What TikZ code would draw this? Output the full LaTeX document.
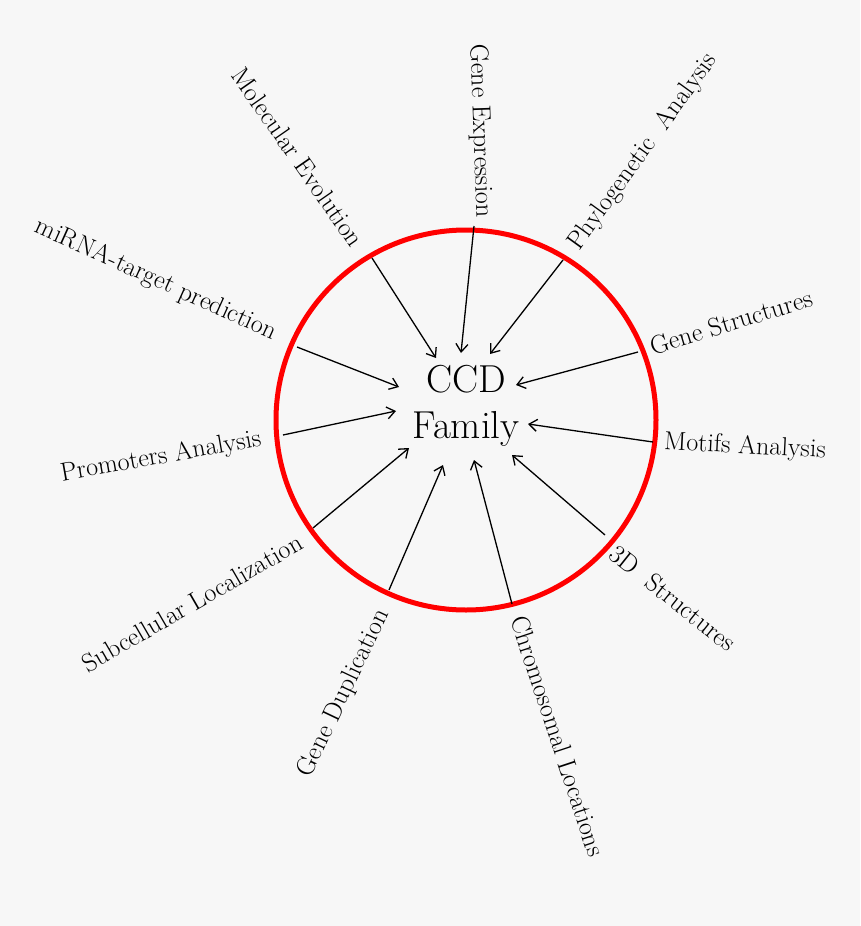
\documentclass[tikz,border=0pt]{standalone}
\usetikzlibrary{arrows.meta}
\definecolor{bg}{HTML}{F7F7F7}
\begin{document}
\begin{tikzpicture}[x=1pt,y=-1pt,
  lbl/.style={font=\fontsize{26}{31}\selectfont, inner sep=0pt},
  conn/.style={line width=1.3pt, -{Straight Barb[length=8pt,width=12pt,line width=1.3pt]}},
  ring/.style={draw=red, line width=5pt}]
\fill[bg] (0,0) rectangle (860,926);
\useasboundingbox (0,0) rectangle (860,926);
\draw[ring] (466,420) circle[radius=190];
\node[align=center, font=\fontsize{39}{46}\selectfont, inner sep=0pt] (ccd) at (466,406) {CCD\\Family};

\node[lbl, rotate=-55.2] (molev) at (298,157) {Molecular Evolution};
\node[lbl, rotate=-88] (gexp) at (480,131) {Gene Expression};
\node[lbl, rotate=54.1] (phylo) at (643,152) {Phylogenetic\ \ Analysis};
\node[lbl, rotate=17] (gstr) at (731,322) {Gene Structures};
\node[lbl, rotate=-3] (motif) at (745,447) {Motifs Analysis};
\node[lbl, rotate=-38.6] (threed) at (673,598) {3D\ \ Structures};
\node[lbl, rotate=-71.7] (chrom) at (558,736) {Chromosomal Locations};
\node[lbl, rotate=64.6] (gdup) at (344,693) {Gene Duplication};
\node[lbl, rotate=30] (subc) at (192,603) {Subcellular Localization};
\node[lbl, rotate=10] (prom) at (161,457) {Promoters Analysis};
\node[lbl, rotate=-24.3] (mirna) at (156,280) {miRNA-target prediction};

\coordinate (s1) at (372,258);  \coordinate (e1) at (436,358);
\coordinate (s2) at (474,226);  \coordinate (e2) at (461,353);
\coordinate (s3) at (563,260);  \coordinate (e3) at (490,354);
\coordinate (s4) at (638,352);  \coordinate (e4) at (516,385);
\coordinate (s5) at (653,442);  \coordinate (e5) at (528,424);
\coordinate (s6) at (605,535);  \coordinate (e6) at (512,455);
\coordinate (s7) at (512,604);  \coordinate (e7) at (474,460);
\coordinate (s8) at (389,590);  \coordinate (e8) at (443,465);
\coordinate (s9) at (313,528);  \coordinate (e9) at (409,448);
\coordinate (s10) at (283,435); \coordinate (e10) at (396,411);
\coordinate (s11) at (297,347); \coordinate (e11) at (399,387);

\foreach \i in {1,...,11} \draw[conn] (s\i) -- (e\i);
\end{tikzpicture}
\end{document}
